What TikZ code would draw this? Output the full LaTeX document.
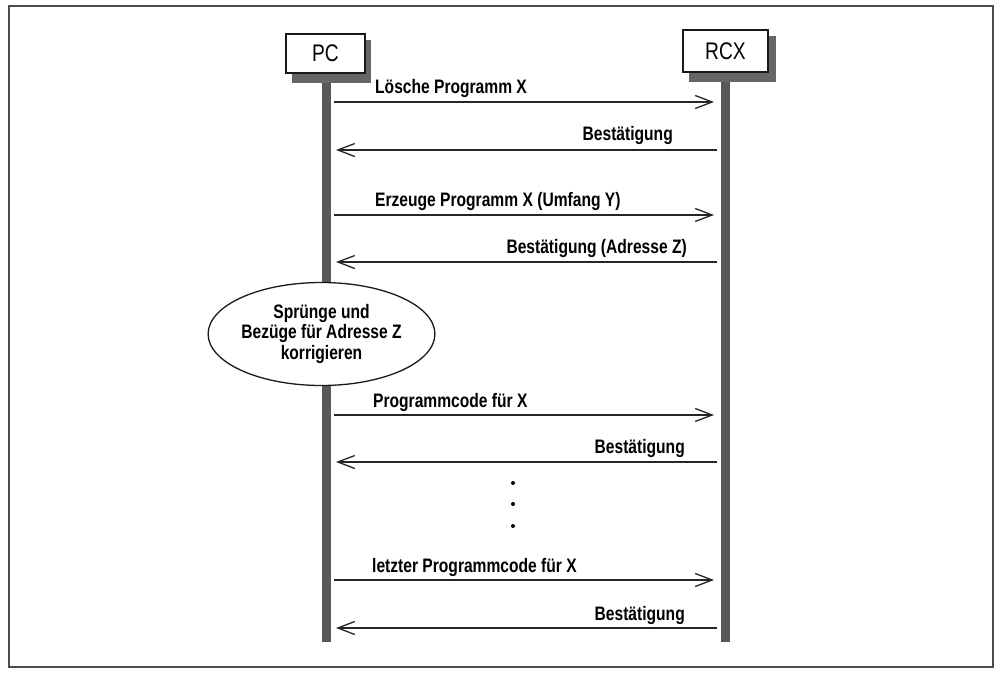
\documentclass[tikz,border=0pt]{standalone}
\usepackage{fontspec}
\setmainfont{Liberation Sans}[FakeStretch=0.8]
\usetikzlibrary{arrows.meta,shapes.geometric}
\begin{document}
\begin{tikzpicture}[x=1pt,y=-1pt,
  frame/.style={draw=black!70, line width=1.2pt},
  life/.style={fill=black!65},
  shadowfill/.style={fill=black!60},
  actor/.style={draw=black!90, line width=1.6pt, fill=white, inner sep=0pt,
    font=\fontsize{24}{26}\selectfont},
  msg/.style={draw=black!85, line width=1.3pt,
    -{Straight Barb[length=17pt,width=13pt,line width=1.3pt]}},
  lbl/.style={font=\fontsize{19.5}{21}\selectfont\bfseries, inner sep=0pt},
  note/.style={ellipse, draw=black!90, line width=1.3pt, fill=white,
    minimum width=183, minimum height=103, inner sep=0pt, align=center,
    font=\fontsize{19.5}{20.5}\selectfont\bfseries},
  dot/.style={circle, fill=black, inner sep=0pt, minimum size=4pt}
]
\useasboundingbox (0,0) rectangle (995,676);
\fill[white] (0,0) rectangle (995,676);
\draw[frame] (9,6) rectangle (993,667);

% lifelines
\fill[life] (321.5,73) rectangle (330.5,642);
\fill[life] (720.5,72) rectangle (729.5,642);

% box shadows
\fill[shadowfill] (292,40) rectangle (371,83);
\fill[shadowfill] (689,36) rectangle (776,82);

% actors
\node[actor, minimum width=79, minimum height=39] (pc) at (325.5,53.5) {PC};
\node[actor, minimum width=85, minimum height=42] (rcx) at (725.5,51) {RCX};

% arrow end points
\coordinate (p1) at (334,102);  \coordinate (r1) at (714,102);
\coordinate (r2) at (717,150);  \coordinate (p2) at (336,150);
\coordinate (p3) at (334,215);  \coordinate (r3) at (714,215);
\coordinate (r4) at (717,262);  \coordinate (p4) at (336,262);
\coordinate (p5) at (334,415);  \coordinate (r5) at (714,415);
\coordinate (r6) at (717,462);  \coordinate (p6) at (336,462);
\coordinate (p7) at (334,580);  \coordinate (r7) at (714,580);
\coordinate (r8) at (717,628);  \coordinate (p8) at (336,628);

\draw[msg] (p1) -- (r1);
\draw[msg] (r2) -- (p2);
\draw[msg] (p3) -- (r3);
\draw[msg] (r4) -- (p4);
\draw[msg] (p5) -- (r5);
\draw[msg] (r6) -- (p6);
\draw[msg] (p7) -- (r7);
\draw[msg] (r8) -- (p8);

% labels
\node[lbl, anchor=base west] (t1) at (375,94)  {Lösche Programm X};
\node[lbl, anchor=base east] (t2) at (673,141) {Bestätigung};
\node[lbl, anchor=base west] (t3) at (375,207) {Erzeuge Programm X (Umfang Y)};
\node[lbl, anchor=base east] (t4) at (687,254) {Bestätigung (Adresse Z)};
\node[lbl, anchor=base west] (t5) at (373,407) {Programmcode für X};
\node[lbl, anchor=base east] (t6) at (685,453) {Bestätigung};
\node[lbl, anchor=base west] (t7) at (372,572) {letzter Programmcode für X};
\node[lbl, anchor=base east] (t8) at (685,620) {Bestätigung};

% note
\node[note] (fix) at (321.5,334) {Sprünge und\\Bezüge für Adresse Z\\korrigieren};

% dots
\node[dot] (d1) at (513,483) {};
\node[dot] (d2) at (513,504) {};
\node[dot] (d3) at (513,526) {};
\end{tikzpicture}
\end{document}
